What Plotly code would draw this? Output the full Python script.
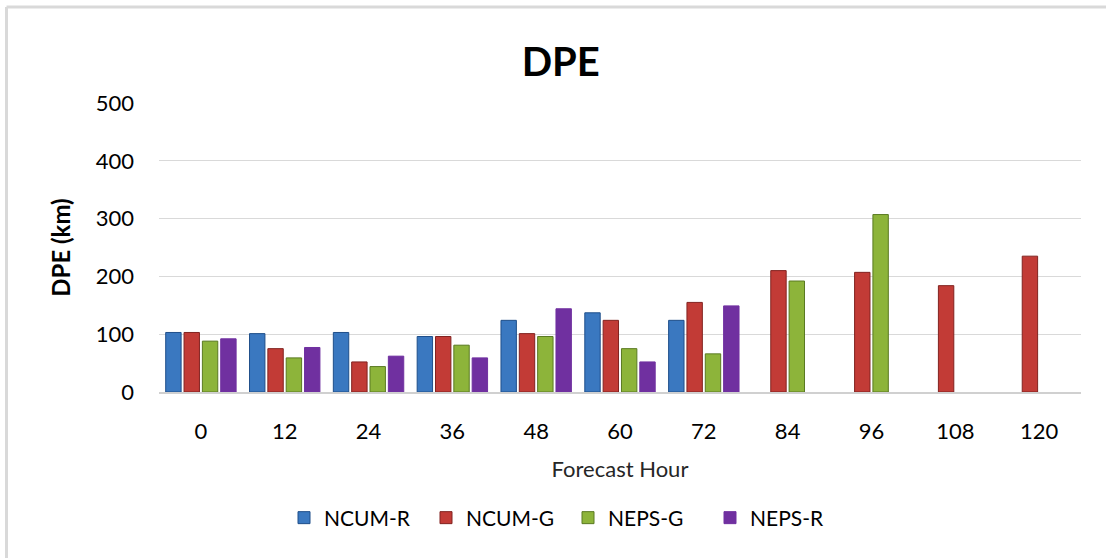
import plotly.graph_objects as go

hours = ["0", "12", "24", "36", "48", "60", "72", "84", "96", "108", "120"]
ncum_r = [103, 101, 103, 96, 124, 137, 124, None, None, None, None]
ncum_g = [103, 75, 52, 96, 101, 124, 155, 210, 207, 184, 235]
neps_g = [88, 59, 44, 81, 96, 75, 66, 192, 307, None, None]
neps_r = [92, 77, 62, 59, 144, 52, 149, None, None, None, None]

series = [
    ("NCUM-R", ncum_r, "#3a78c0", "#1f4f8a"),
    ("NCUM-G", ncum_g, "#c23b36", "#822320"),
    ("NEPS-G", neps_g, "#8db43a", "#5a7a22"),
    ("NEPS-R", neps_r, "#7030a0", "#7030a0"),
]

FONT = "Lato"

fig = go.Figure()
for name, vals, col, edge in series:
    fig.add_trace(go.Bar(
        x=hours, y=vals, name=name,
        marker=dict(color=col, line=dict(color=edge, width=1)),
    ))

# plot area in pixels: x 159..1081, y 103..392
L, R, T, B = 159, 1081, 103, 392
W, H = R - L, B - T
def px(x):
    return (x - L) / W
def py(y):
    return (B - y) / H

fig.update_layout(
    width=1106, height=558,
    margin=dict(l=L, r=1106 - R, t=T, b=558 - B),
    paper_bgcolor="white", plot_bgcolor="white",
    font=dict(family=FONT, color="#262626", size=22),
    title=dict(text="<b>DPE</b>", x=0.507, xanchor="center", y=1 - 62 / 558,
               yanchor="middle", font=dict(family=FONT, size=40, color="#000000")),
    barmode="group", bargap=0.125, bargroupgap=0.16,
    showlegend=True,
    legend=dict(orientation="h", x=px(568), xanchor="center", y=py(518), yanchor="middle",
                font=dict(family=FONT, size=21, color="#000000"),
                traceorder="normal", entrywidth=97, itemwidth=30),
    xaxis=dict(
        showgrid=False, showline=True, linecolor="#d0d0d0", linewidth=2,
        ticks="", ticklabelstandoff=19,
        tickfont=dict(family=FONT, size=22, color="#000000"),
        title=dict(text="Forecast Hour", standoff=18,
                   font=dict(family=FONT, size=22, color="#262626")),
    ),
    yaxis=dict(
        range=[0, 500], dtick=100, showgrid=True, gridcolor="#d9d9d9", gridwidth=1,
        zeroline=False, showline=False, ticks="", ticklabelstandoff=24,
        tickfont=dict(family=FONT, size=22, color="#000000"),
        title=dict(text="<b>DPE (km)</b>", standoff=18,
                   font=dict(family=FONT, size=24, color="#000000")),
    ),
    shapes=[
        dict(type="line", xref="paper", yref="paper", x0=px(6.5), x1=px(1106),
             y0=py(7), y1=py(7), line=dict(color="#d9d9d9", width=3)),
        dict(type="line", xref="paper", yref="paper", x0=px(6.5), x1=px(6.5),
             y0=py(7), y1=py(558), line=dict(color="#d9d9d9", width=3)),
    ],
)

fig.write_html("out.html")
